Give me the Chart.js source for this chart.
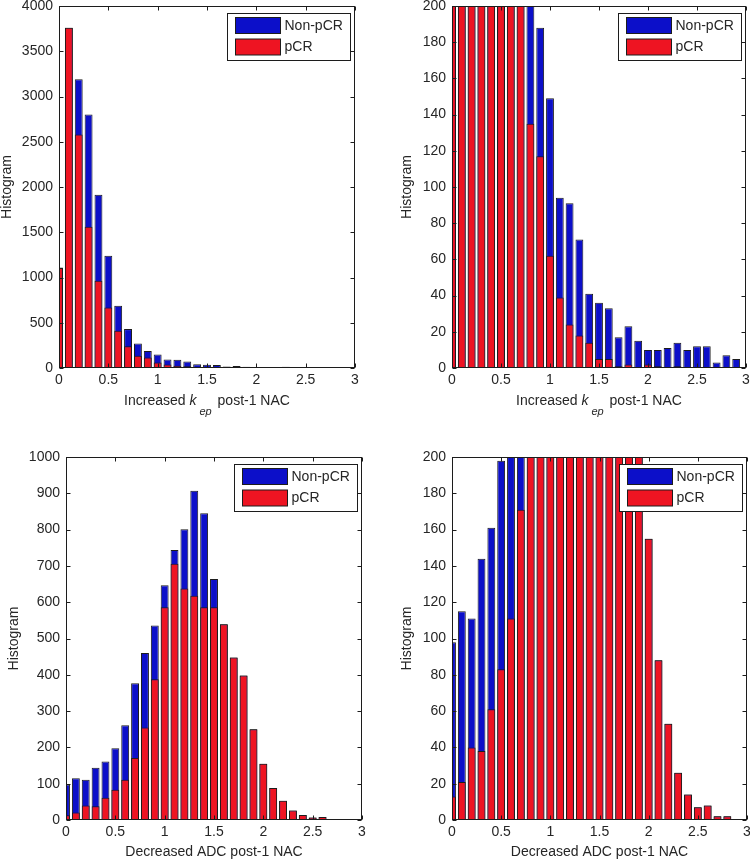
<!DOCTYPE html>
<html>
<head>
<meta charset="utf-8">
<script src="https://cdn.jsdelivr.net/npm/chart.js@4.4.1/dist/chart.umd.min.js"></script>
<style>
    html, body { margin: 0; padding: 0; background: #fff; }
    #wrap { position: relative; width: 750px; height: 860px; }
    #wrap canvas { position: absolute; }
</style>
</head>
<body>
<div id="wrap">
    <canvas id="kepFull"  width="375" height="430" style="left:0;top:0"></canvas>
    <canvas id="kepZoom"  width="375" height="430" style="left:375px;top:0"></canvas>
    <canvas id="adcFull"  width="375" height="430" style="left:0;top:430px"></canvas>
    <canvas id="adcZoom"  width="375" height="430" style="left:375px;top:430px"></canvas>
</div>
<script>
// histogram bin centres (shared by all four panels)
const binCenters = [0, 0.1, 0.2, 0.3, 0.4, 0.5, 0.6, 0.7, 0.8, 0.9,
                    1.0, 1.1, 1.2, 1.3, 1.4, 1.5, 1.6, 1.7, 1.8, 1.9,
                    2.0, 2.1, 2.2, 2.3, 2.4, 2.5, 2.6, 2.7, 2.8, 2.9];

// increased k_ep post-1 NAC
const kepNonPcr = [1110, 3760, 3190, 2800, 1915, 1240, 687, 430, 272, 188,
                   149, 94, 91, 71, 41, 36, 33, 17, 23, 15,
                   10, 10, 11, 14, 10, 12, 12, 3, 7, 5];
const kepPcr    = [1105, 3760, 2580, 1560, 963, 669, 412, 239, 135, 117,
                   62, 39, 24, 18, 14, 5, 5, 1, 2, 0,
                   2, 1, 0, 1, 0, 0, 0, 0, 0, 0];

// decreased ADC post-1 NAC
const adcNonPcr = [98, 115, 111, 144, 161, 198, 261, 377, 460, 536,
                   647, 744, 801, 907, 845, 664, 539, 448, 398, 250,
                   155, 88, 53, 26, 14, 7, 8, 2, 2, 0];
const adcPcr    = [13, 21, 40, 38, 61, 83, 111, 171, 255, 388,
                   586, 706, 638, 618, 586, 586, 539, 448, 398, 250,
                   155, 88, 53, 26, 14, 7, 8, 2, 2, 0];

const seriesNames = ['Non-pCR', 'pCR'];
const yTitle = 'Histogram';
const kepTitle = [{ t: 'Increased ' }, { t: 'k', it: true }, { t: 'ep', it: true, sub: true }, { t: ' post-1 NAC' }];
const adcTitle = [{ t: 'Decreased ADC post-1 NAC' }];

const BLUE = '#0c0fc9';
const RED  = '#ee1422';
const EDGE = '#1c1c1c';
const INK  = '#262626';
const FONT = "'Liberation Sans', Arial, Helvetica, sans-serif";

// MATLAB-like box: frame with inward ticks, legend box, axis titles
const matlabFrame = {
    id: 'matlabFrame',
    afterDatasetsDraw(chart, args, o) {
        const { ctx, chartArea: a, scales: { x, y } } = chart;
        const L = Math.round(a.left) + 0.5, R = Math.round(a.right) - 0.5;
        const T = Math.round(a.top) + 0.5, B = Math.round(a.bottom) - 0.5;
        ctx.save();
        ctx.strokeStyle = EDGE;
        ctx.lineWidth = 1;
        ctx.beginPath();
        x.ticks.forEach(t => {
            const px = Math.round(x.getPixelForValue(t.value)) + 0.5;
            ctx.moveTo(px, B); ctx.lineTo(px, B - 4);
            ctx.moveTo(px, T); ctx.lineTo(px, T + 4);
        });
        y.ticks.forEach(t => {
            const py = Math.round(y.getPixelForValue(t.value)) + 0.5;
            ctx.moveTo(L, py); ctx.lineTo(L + 4, py);
            ctx.moveTo(R, py); ctx.lineTo(R - 4, py);
        });
        ctx.stroke();
        ctx.strokeRect(L, T, R - L, B - T);

        // legend
        const bw = 123, bh = 47;
        const bx = Math.round(a.right - 5 - bw) + 0.5, by = Math.round(a.top + 7) + 0.5;
        ctx.fillStyle = '#fff';
        ctx.fillRect(bx, by, bw, bh);
        ctx.strokeStyle = EDGE;
        ctx.strokeRect(bx, by, bw, bh);
        const colors = [BLUE, RED];
        ctx.font = '14px ' + FONT;
        ctx.textBaseline = 'middle';
        ctx.textAlign = 'left';
        seriesNames.forEach((name, i) => {
            const sy = by + 4 + i * 21.5;
            ctx.fillStyle = colors[i];
            ctx.fillRect(bx + 8, sy, 45, 16);
            ctx.strokeRect(bx + 8, sy, 45, 16);
            ctx.fillStyle = INK;
            ctx.fillText(name, bx + 57, sy + 8.5);
        });
        ctx.restore();
    },
    afterDraw(chart, args, o) {
        const { ctx, chartArea: a } = chart;
        ctx.save();
        ctx.fillStyle = INK;
        // y title
        ctx.font = '14px ' + FONT;
        ctx.textAlign = 'center';
        ctx.textBaseline = 'middle';
        ctx.translate(o.yTitleX, (a.top + a.bottom) / 2);
        ctx.rotate(-Math.PI / 2);
        ctx.fillText(yTitle, 0, 0);
        ctx.setTransform(1, 0, 0, 1, 0, 0);
        // x title (rich text with subscript)
        ctx.textAlign = 'left';
        ctx.textBaseline = 'alphabetic';
        const fontOf = p => (p.it ? 'italic ' : '') + (p.sub ? '11px ' : '14px ') + FONT;
        let w = 0;
        o.xParts.forEach(p => { ctx.font = fontOf(p); w += ctx.measureText(p.t).width + (p.sub ? 5 : 0); });
        let cx = (a.left + a.right) / 2 - w / 2;
        o.xParts.forEach(p => {
            ctx.font = fontOf(p);
            if (p.sub) cx += 3;
            ctx.fillText(p.t, cx, o.xTitleY + (p.sub ? 10 : 0));
            cx += ctx.measureText(p.t).width + (p.sub ? 2 : 0);
        });
        ctx.restore();
    }
};

function makeHist(id, nonPcr, pcr, yMax, yStep, box, xParts, yTitleX, xTitleY) {
    const pts = vals => binCenters.map((c, i) => ({ x: c, y: vals[i] }));
    const tickFont = { family: FONT, size: 14 };
    return new Chart(document.getElementById(id), {
        type: 'bar',
        data: {
            datasets: [
                { label: seriesNames[0], data: pts(nonPcr), backgroundColor: BLUE, order: 1 },
                { label: seriesNames[1], data: pts(pcr),    backgroundColor: RED,  order: 0 },
            ],
        },
        options: {
            responsive: false,
            animation: false,
            events: [],
            layout: { padding: { top: box.top, right: 375 - box.right, left: 0, bottom: 0 } },
            datasets: {
                bar: {
                    grouped: false,
                    categoryPercentage: 1,
                    barPercentage: 0.8,
                    borderColor: EDGE,
                    borderWidth: 1,
                    borderSkipped: false,
                },
            },
            scales: {
                x: {
                    type: 'linear', min: 0, max: 3, offset: false,
                    grid: { display: false, drawTicks: false, offset: false }, border: { display: false },
                    ticks: { stepSize: 0.5, padding: 4, maxRotation: 0, autoSkip: false,
                             color: INK, font: tickFont, callback: v => String(v) },
                    afterFit: s => { s.height = 430 - box.bottom; s.paddingLeft = 0; s.paddingRight = 0; },
                },
                y: {
                    min: 0, max: yMax,
                    grid: { display: false, drawTicks: false }, border: { display: false },
                    ticks: { stepSize: yStep, padding: 6, color: INK, font: tickFont, callback: v => String(v) },
                    afterFit: s => { s.width = box.left; s.paddingTop = 0; s.paddingBottom = 0; },
                },
            },
            plugins: {
                legend: { display: false },
                tooltip: { enabled: false },
                matlabFrame: { xParts, yTitleX, xTitleY },
            },
        },
        plugins: [matlabFrame],
    });
}

makeHist('kepFull', kepNonPcr, kepPcr, 4000, 500, { left: 59, top: 6, right: 355, bottom: 368 }, kepTitle, 7, 405);
makeHist('kepZoom', kepNonPcr, kepPcr, 200, 20,   { left: 77, top: 6, right: 371, bottom: 368 }, kepTitle, 32, 405);
makeHist('adcFull', adcNonPcr, adcPcr, 1000, 100, { left: 66, top: 27, right: 362, bottom: 390 }, adcTitle, 14, 426);
makeHist('adcZoom', adcNonPcr, adcPcr, 200, 20,   { left: 77, top: 27, right: 372, bottom: 390 }, adcTitle, 32, 426);
</script>
</body>
</html>
